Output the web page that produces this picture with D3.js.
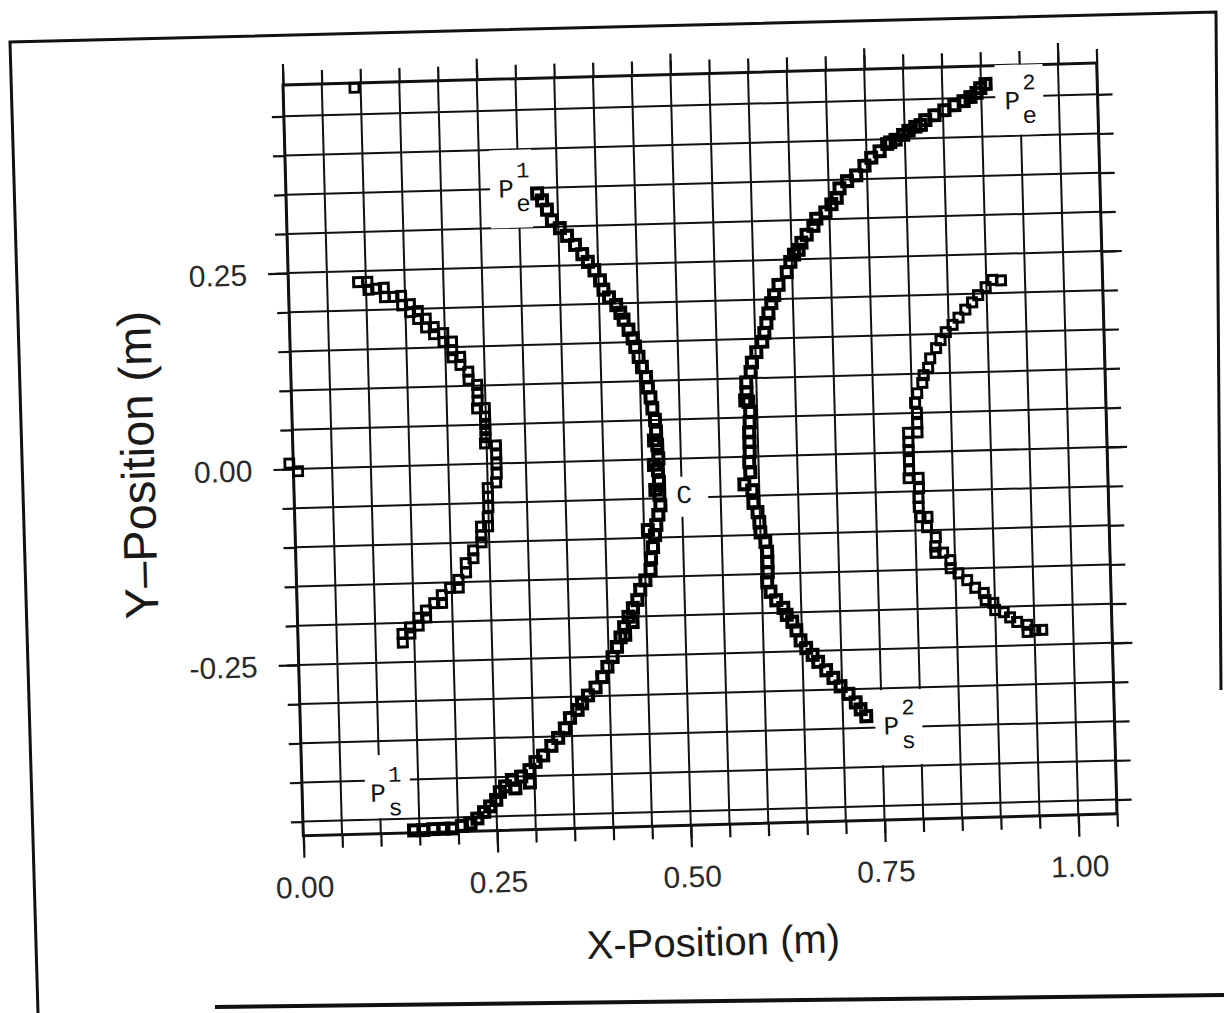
<!DOCTYPE html>
<html>
<head>
<meta charset="utf-8">
<script src="https://cdn.jsdelivr.net/npm/d3@7"></script>
<style>
  body { margin: 0; background: #fff; }
  svg { display: block; }
</style>
</head>
<body>
<svg width="1224" height="1013"></svg>
<script>
// axis ranges and tick labels (metres)
const xDomain = [0, 1.05];
const yDomain = [-0.468, 0.490];
const xTickLabels = [0, 0.25, 0.5, 0.75, 1.0];
const yTickLabels = [-0.25, 0, 0.25];

// left outer arc
const arcA = [
  [0.090,0.236],[0.102,0.236],[0.103,0.226],[0.113,0.227],[0.123,0.228],[0.124,0.216],
  [0.135,0.216],[0.145,0.217],[0.146,0.205],[0.156,0.206],[0.156,0.196],[0.166,0.197],
  [0.166,0.187],[0.176,0.187],[0.176,0.176],[0.186,0.176],[0.186,0.167],[0.198,0.168],
  [0.198,0.157],[0.209,0.157],[0.209,0.146],[0.209,0.137],[0.219,0.137],[0.219,0.127],
  [0.229,0.118],[0.229,0.108],[0.240,0.101],[0.240,0.091],[0.240,0.081],[0.239,0.071],
  [0.249,0.071],[0.249,0.060],[0.249,0.051],[0.249,0.043],[0.249,0.034],[0.248,0.026],
  [0.262,0.023],[0.262,0.013],[0.262,0.000],[0.262,-0.013],[0.261,-0.024],[0.250,-0.031],
  [0.250,-0.042],[0.250,-0.055],[0.249,-0.068],[0.249,-0.080],[0.240,-0.080],[0.240,-0.091],
  [0.240,-0.100],[0.229,-0.110],[0.229,-0.120],[0.219,-0.126],[0.219,-0.138],[0.209,-0.147],
  [0.209,-0.157],[0.198,-0.157],[0.187,-0.166],[0.187,-0.176],[0.177,-0.176],[0.166,-0.185],
  [0.166,-0.194],[0.156,-0.194],[0.156,-0.204],[0.145,-0.206],[0.145,-0.214],[0.135,-0.214],
  [0.135,-0.225]
];

// left inner arc, P_e^1 down to P_s^1
const arcB = [
  [0.324,0.343],[0.330,0.334],[0.336,0.322],[0.342,0.308],[0.352,0.298],[0.361,0.288],
  [0.371,0.276],[0.380,0.264],[0.387,0.254],[0.395,0.243],[0.402,0.230],[0.406,0.218],
  [0.413,0.208],[0.422,0.198],[0.427,0.188],[0.431,0.179],[0.437,0.166],[0.442,0.155],
  [0.445,0.144],[0.449,0.131],[0.453,0.118],[0.458,0.105],[0.460,0.092],[0.463,0.079],
  [0.465,0.065],[0.468,0.050],[0.469,0.035],[0.466,0.024],[0.470,0.018],[0.471,0.001],
  [0.465,-0.007],[0.470,-0.014],[0.471,-0.029],[0.466,-0.039],[0.471,-0.046],[0.472,-0.059],
  [0.469,-0.071],[0.466,-0.084],[0.455,-0.090],[0.464,-0.097],[0.461,-0.112],[0.458,-0.126],
  [0.457,-0.141],[0.450,-0.154],[0.443,-0.166],[0.439,-0.179],[0.433,-0.189],[0.427,-0.200],
  [0.432,-0.207],[0.421,-0.213],[0.422,-0.223],[0.416,-0.226],[0.411,-0.238],[0.405,-0.251],
  [0.398,-0.263],[0.391,-0.276],[0.382,-0.289],[0.372,-0.299],[0.364,-0.309],[0.358,-0.317],
  [0.348,-0.327],[0.341,-0.340],[0.332,-0.352],[0.323,-0.362],[0.312,-0.374],[0.302,-0.382],
  [0.294,-0.392],[0.283,-0.400],[0.294,-0.408],[0.271,-0.404],[0.275,-0.415],[0.262,-0.412],
  [0.255,-0.419],[0.250,-0.429],[0.242,-0.437],[0.234,-0.444],[0.225,-0.452],[0.216,-0.458],
  [0.205,-0.461],[0.192,-0.464],[0.181,-0.464],[0.168,-0.464],[0.155,-0.465],[0.143,-0.465]
];

// right inner arc, P_e^2 through C down to P_s^2
const arcC = [
  [0.906,0.467],[0.899,0.462],[0.894,0.456],[0.886,0.451],[0.877,0.446],[0.865,0.441],
  [0.852,0.435],[0.839,0.429],[0.827,0.423],[0.821,0.417],[0.814,0.415],[0.805,0.410],
  [0.798,0.405],[0.788,0.399],[0.781,0.396],[0.777,0.394],[0.767,0.385],[0.756,0.377],
  [0.747,0.367],[0.736,0.355],[0.724,0.348],[0.714,0.339],[0.710,0.327],[0.703,0.319],
  [0.695,0.309],[0.683,0.301],[0.679,0.292],[0.670,0.281],[0.663,0.271],[0.659,0.262],
  [0.653,0.256],[0.648,0.247],[0.643,0.234],[0.632,0.218],[0.626,0.205],[0.622,0.195],
  [0.618,0.182],[0.615,0.170],[0.612,0.157],[0.609,0.146],[0.601,0.133],[0.595,0.120],
  [0.593,0.108],[0.587,0.095],[0.587,0.082],[0.585,0.072],[0.589,0.070],[0.591,0.057],
  [0.590,0.044],[0.589,0.031],[0.589,0.019],[0.589,0.006],[0.588,-0.007],[0.589,-0.020],
  [0.581,-0.035],[0.591,-0.043],[0.592,-0.059],[0.597,-0.071],[0.599,-0.084],[0.600,-0.097],
  [0.606,-0.109],[0.608,-0.122],[0.608,-0.135],[0.608,-0.148],[0.607,-0.161],[0.611,-0.173],
  [0.618,-0.184],[0.627,-0.194],[0.631,-0.203],[0.638,-0.212],[0.643,-0.223],[0.648,-0.236],
  [0.655,-0.246],[0.663,-0.255],[0.670,-0.264],[0.680,-0.275],[0.689,-0.285],[0.698,-0.296],
  [0.708,-0.306],[0.717,-0.317],[0.723,-0.326],[0.730,-0.335]
];

// right outer arc
const arcD = [
  [0.908,0.217],[0.919,0.216],[0.899,0.208],[0.889,0.198],[0.881,0.189],[0.872,0.180],
  [0.863,0.170],[0.855,0.161],[0.846,0.152],[0.839,0.142],[0.833,0.132],[0.825,0.119],
  [0.822,0.107],[0.816,0.098],[0.814,0.088],[0.807,0.075],[0.804,0.063],[0.806,0.050],
  [0.806,0.037],[0.794,0.025],[0.806,0.025],[0.794,0.013],[0.794,0.003],[0.794,-0.010],
  [0.794,-0.023],[0.793,-0.033],[0.806,-0.033],[0.806,-0.046],[0.805,-0.058],[0.805,-0.070],
  [0.807,-0.083],[0.816,-0.083],[0.815,-0.096],[0.826,-0.109],[0.825,-0.121],[0.825,-0.129],
  [0.835,-0.129],[0.844,-0.139],[0.844,-0.149],[0.854,-0.156],[0.865,-0.165],[0.875,-0.175],
  [0.886,-0.182],[0.888,-0.191],[0.898,-0.195],[0.900,-0.204],[0.911,-0.207],[0.919,-0.214],
  [0.928,-0.220],[0.941,-0.224],[0.941,-0.233],[0.951,-0.231],[0.960,-0.231]
];

// isolated points
const strays = [[0.092,0.484],[-0.005,0.007],[0.006,-0.003]];

// point labels
const labels = [
  {main: 'P', sup: '1', sub: 'e', x: 0.284, y: 0.351, box: [-16, 26, -38, 40]},
  {main: 'P', sup: '2', sub: 'e', x: 0.940, y: 0.446, box: [-17, 31, -35, 35]},
  {main: 'P', sup: '1', sub: 's', x: 0.098, y: -0.415, box: [-13, 32, -37, 26]},
  {main: 'P', sup: '2', sub: 's', x: 0.762, y: -0.347, box: [-16, 31, -35, 40]},
  {main: 'C', sup: '', sub: '', x: 0.503, y: -0.045, box: [-20, 24, -17, 23]}
];

const svg = d3.select('svg');
const W = 814, H = 751;
const ink = '#111';

// scanned page frame
svg.append('path')
  .attr('d', 'M38,1013 L10,42 L1216,12 L1221,690')
  .attr('fill', 'none').attr('stroke', ink).attr('stroke-width', 3);
svg.append('path')
  .attr('d', 'M215,1007 L1224,995')
  .attr('fill', 'none').attr('stroke', ink).attr('stroke-width', 4);

const g = svg.append('g').attr('transform', 'translate(283,85) rotate(-1.55)');

const x = d3.scaleLinear().domain(xDomain).range([0, W]);
const y = d3.scaleLinear().domain(yDomain).range([H, 0]);

const minorX = x.ticks(21);
const minorY = y.ticks(19);

// grid
g.append('g').selectAll('line').data(minorX).join('line')
  .attr('x1', d => x(d)).attr('x2', d => x(d)).attr('y1', 0).attr('y2', H)
  .attr('stroke', ink).attr('stroke-width', 2);
g.append('g').selectAll('line').data(minorY).join('line')
  .attr('y1', d => y(d)).attr('y2', d => y(d)).attr('x1', 0).attr('x2', W)
  .attr('stroke', ink).attr('stroke-width', 2);

// outward ticks on all four sides
function ticks(axis, pos, vals, size, fmt) {
  const a = g.append('g').attr('transform', pos)
    .call(axis.tickValues(vals).tickSize(size).tickFormat(fmt || ''));
  a.select('.domain').remove();
  a.selectAll('line').attr('stroke', ink).attr('stroke-width', 2.2);
  return a;
}
ticks(d3.axisBottom(x), `translate(0,${H})`, minorX, 13);
ticks(d3.axisTop(x), 'translate(0,0)', minorX, 14);
ticks(d3.axisLeft(y), 'translate(0,0)', minorY, 12);
ticks(d3.axisRight(y), `translate(${W},0)`, minorY, 15);
ticks(d3.axisTop(x), 'translate(0,0)', xTickLabels, 21);
ticks(d3.axisRight(y), `translate(${W},0)`, yTickLabels, 20);

const fmt = d => d.toFixed(2);
const bx = ticks(d3.axisBottom(x), `translate(0,${H})`, xTickLabels, 22, fmt);
bx.selectAll('text')
  .attr('y', 62).attr('dy', 0)
  .attr('font-family', '"Liberation Sans", Arial, Helvetica, sans-serif')
  .attr('font-size', 30).attr('fill', '#2a2a2a');
const ly = ticks(d3.axisLeft(y), 'translate(0,0)', yTickLabels, 20, fmt);
ly.selectAll('text')
  .attr('x', -41).attr('dy', '0.36em')
  .attr('font-family', '"Liberation Sans", Arial, Helvetica, sans-serif')
  .attr('font-size', 30).attr('fill', '#2a2a2a');

// plot border
g.append('rect').attr('x', 0).attr('y', 0).attr('width', W).attr('height', H)
  .attr('fill', 'none').attr('stroke', ink).attr('stroke-width', 3);

// label boxes knock out the grid
const lab = g.append('g').selectAll('g').data(labels).join('g')
  .attr('transform', d => `translate(${x(d.x)},${y(d.y)})`);
lab.append('rect')
  .attr('x', d => d.box[0]).attr('y', d => d.box[2])
  .attr('width', d => d.box[1] - d.box[0]).attr('height', d => d.box[3] - d.box[2])
  .attr('fill', '#fff');
const mono = '"Courier New", "Liberation Mono", monospace';
lab.append('text').text(d => d.main)
  .attr('text-anchor', 'middle').attr('dy', '0.36em')
  .attr('font-family', mono).attr('font-size', 26).attr('fill', ink);
lab.append('text').text(d => d.sup)
  .attr('x', 17).attr('y', -18).attr('dy', '0.36em').attr('text-anchor', 'middle')
  .attr('font-family', mono).attr('font-size', 22).attr('fill', ink);
lab.append('text').text(d => d.sub)
  .attr('x', 17).attr('y', 15).attr('dy', '0.36em').attr('text-anchor', 'middle')
  .attr('font-family', mono).attr('font-size', 24).attr('fill', ink);

// square markers; the two inner arcs are packed tighter in the scan
const s = 9;
[[arcA, 3, s], [arcB, 4, 10], [arcC, 4, 10], [arcD, 3, s], [strays, 2.8, s]].forEach(([series, sw, sz]) => {
  g.append('g').selectAll('rect').data(series).join('rect')
    .attr('x', d => x(d[0]) - sz / 2).attr('y', d => y(d[1]) - sz / 2)
    .attr('width', sz).attr('height', sz)
    .attr('fill', 'none').attr('stroke', '#000').attr('stroke-width', sw);
});

// axis titles
g.append('text').text('X-Position (m)')
  .attr('x', W / 2).attr('y', H + 131).attr('text-anchor', 'middle')
  .attr('font-family', '"Liberation Sans", Arial, Helvetica, sans-serif')
  .attr('font-size', 40).attr('fill', '#1a1a1a');
g.append('text').text('Y–Position (m)')
  .attr('transform', `translate(-139,${y(0) - 8}) rotate(-90)`)
  .attr('text-anchor', 'middle')
  .attr('font-family', '"Liberation Sans", Arial, Helvetica, sans-serif')
  .attr('font-size', 47).attr('fill', '#1a1a1a');
</script>
</body>
</html>
